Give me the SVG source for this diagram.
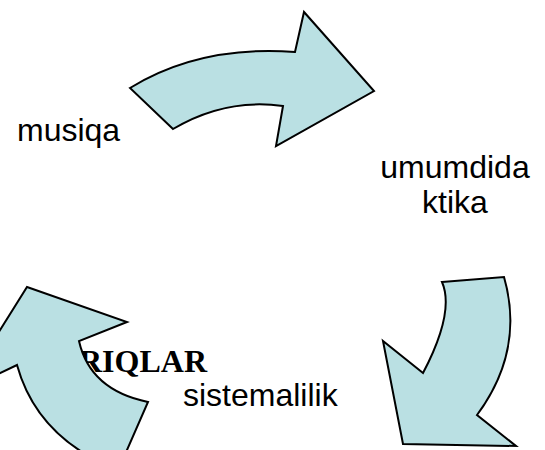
<svg xmlns="http://www.w3.org/2000/svg" width="545" height="450" viewBox="0 0 545 450">
<style>
.arrow{fill:#BAE0E3;stroke:#000;stroke-width:2;stroke-linejoin:miter}
.lbl{font-family:"Liberation Sans",Arial,sans-serif;font-size:32px;fill:#000}
.bold{font-family:"Liberation Serif","Times New Roman",serif;font-size:32px;font-weight:bold;fill:#000}
</style>
<rect width="545" height="450" fill="#fff"/>
<g id="label-riqlar"><text class="bold" x="79" y="372">RIQLAR</text></g>
<g id="connectors">
<path id="arrow-top" class="arrow" d="M130,88 Q200,45 295,52 L304,12 L374,91 L276,146 L283,106 Q225,98 173,129 Z"/>
<path id="arrow-right" class="arrow" d="M442,282 L504,277 Q525,350 477,415 L516,446 L403,444 L383,341 L423,373 Q455,312 442,282 Z"/>
<path id="arrow-left" class="arrow" d="M27,287 L127,322 L79,341 Q90,390 148,402 L120,466 L100,462 Q35,430 17,365 L-38,391 Z"/>
</g>
<g id="node-musiqa"><text class="lbl" x="17" y="141">musiqa</text></g>
<g id="node-umumdidaktika"><text class="lbl" text-anchor="middle" x="455" y="178">umumdida</text><text class="lbl" text-anchor="middle" x="455" y="213">ktika</text></g>
<g id="node-sistemalilik"><text class="lbl" x="183" y="406">sistemalilik</text></g>
</svg>
